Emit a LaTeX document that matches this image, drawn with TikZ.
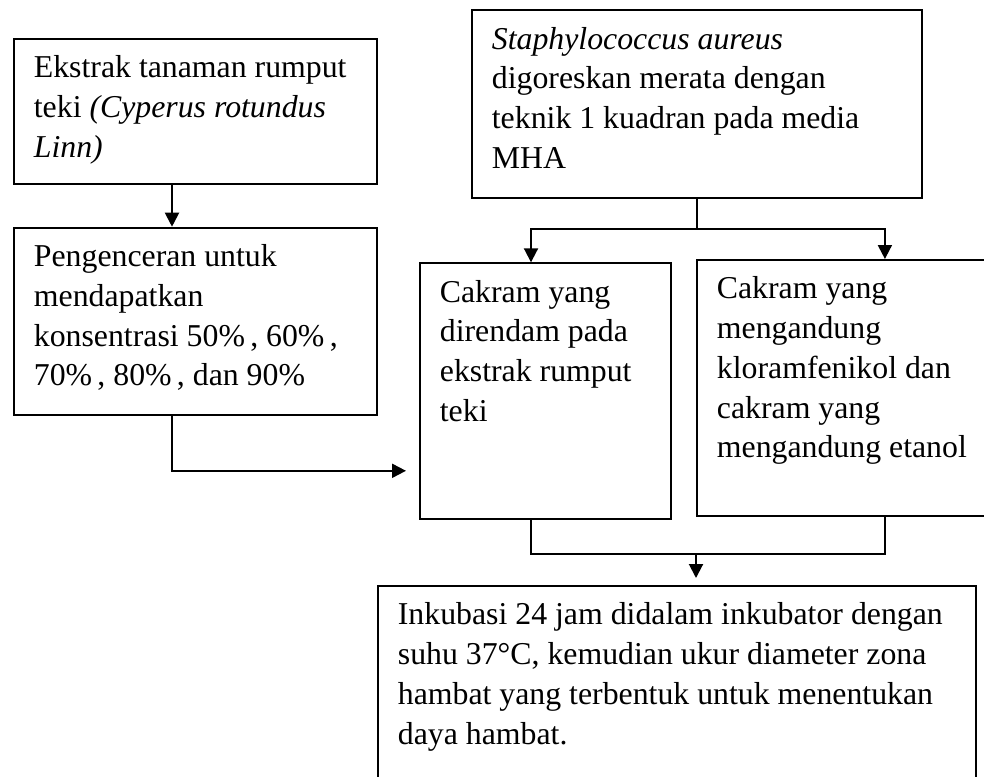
\documentclass[tikz,border=0pt]{standalone}
\usepackage{fontspec}
\setmainfont{Liberation Serif}
\usetikzlibrary{arrows.meta}
\tikzset{
    flow box/.style={
        draw,
        line width=0.9pt,
        anchor=north west,
        inner xsep=10pt,
        inner ysep=8.5pt,
        font=\fontsize{15.9pt}{19.85pt}\selectfont
    },
    flow line/.style={
        line width=1pt
    },
    flow arrow/.style={
        flow line,
        -{Triangle[length=7pt,width=7pt]}
    }
}
\newcommand{\boxtext}[3]{\parbox[t][#2][t]{#1}{\raggedright #3}}

\begin{document}
\begin{tikzpicture}[x=0.5pt,y=-0.5pt]
    \useasboundingbox (0,0) rectangle (984,776);
    % boxes
    \node[flow box] (ekstrak) at (13,38)
        {\boxtext{161.5pt}{55.5pt}{Ekstrak tanaman rumput\\ teki \textit{(Cyperus rotundus}\\ \textit{Linn)}}};
    \node[flow box] (pengenceran) at (13,226.7)
        {\boxtext{161.5pt}{76.65pt}{Pengenceran untuk\\ mendapatkan\\ konsentrasi 50\%\,, 60\%\,,\\ 70\%\,, 80\%\,, dan 90\%}};
    \node[flow box] (staph) at (471,9.3)
        {\boxtext{205pt}{76.7pt}{\textit{Staphylococcus aureus}\\ digoreskan merata dengan\\ teknik 1 kuadran pada media\\ MHA}};
    \node[flow box] (direndam) at (419,262.3)
        {\boxtext{105.5pt}{111pt}{Cakram yang\\ direndam pada\\ ekstrak rumput\\ teki}};
    \node[flow box] (kontrol) at (696,259)
        {\boxtext{168pt}{111pt}{Cakram yang\\ mengandung\\ kloramfenikol dan\\ cakram yang\\ mengandung etanol}};
    \node[flow box] (inkubasi) at (377,585)
        {\boxtext{279pt}{98pt}{Inkubasi 24 jam didalam inkubator dengan\\ suhu 37°C, kemudian ukur diameter zona\\ hambat yang terbentuk untuk menentukan\\ daya hambat.}};
    % connectors
    \draw[flow arrow] ([xshift=79.5pt]ekstrak.south west) -- ([xshift=79.5pt]pengenceran.north west);
    \draw[flow arrow, shorten >=6.5pt] ([xshift=79.5pt]pengenceran.south west) |- ([yshift=24.65pt]direndam.south west);
    \draw[flow line] (staph.south) -- ++(0,-15.3pt) coordinate (fork);
    \draw[flow arrow] (fork) -| ([xshift=56pt]direndam.north west);
    \draw[flow arrow] (fork) -| (kontrol.north);
    \draw[flow line] ([xshift=56pt]direndam.south west) -- ++(0,-16.7pt) coordinate (join) -| (kontrol.south);
    \draw[flow arrow, shorten >=3.5pt] (join -| kontrol.south west) -- (inkubasi.north -| kontrol.south west);
\end{tikzpicture}
\end{document}
